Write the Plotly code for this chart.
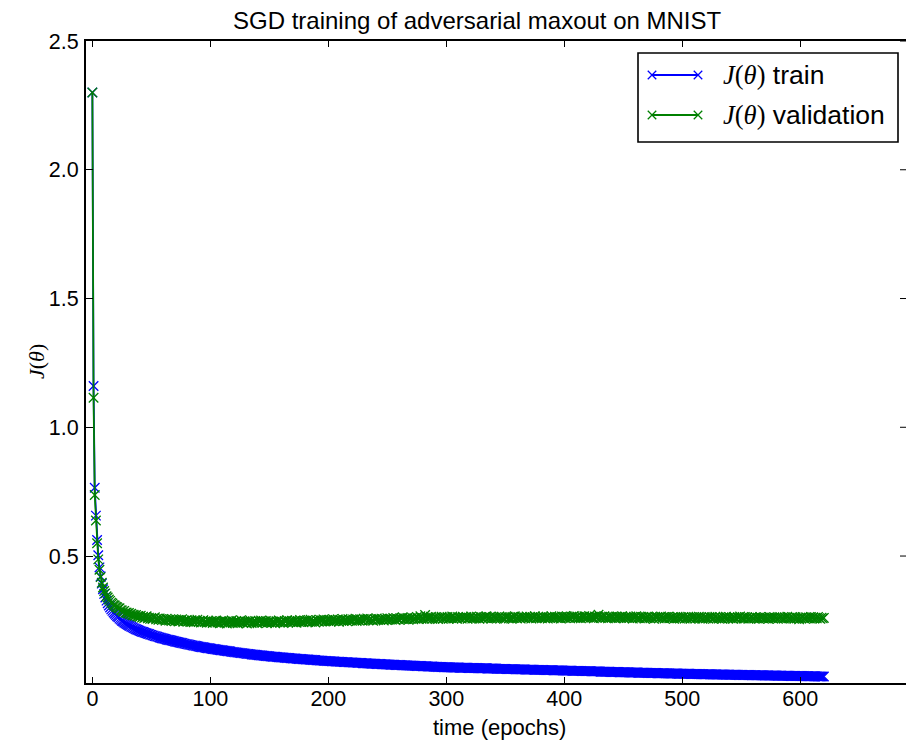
import plotly.graph_objects as go

# ---------------- data ----------------
train_loss = [
    2.300, 1.160, 0.765, 0.657, 0.562, 0.503, 0.456, 0.421, 0.393, 0.371,
    0.353, 0.339, 0.327, 0.317, 0.308, 0.300, 0.293, 0.287, 0.281, 0.276,
    0.271, 0.266, 0.262, 0.257, 0.253, 0.249, 0.246, 0.242, 0.239, 0.236,
    0.233, 0.230, 0.228, 0.225, 0.223, 0.220, 0.218, 0.216, 0.214, 0.212,
    0.210, 0.208, 0.206, 0.205, 0.203, 0.201, 0.200, 0.198, 0.197, 0.195,
    0.194, 0.192, 0.191, 0.189, 0.188, 0.187, 0.185, 0.184, 0.183, 0.181,
    0.180, 0.179, 0.178, 0.176, 0.175, 0.174, 0.173, 0.172, 0.171, 0.170,
    0.168, 0.167, 0.166, 0.165, 0.164, 0.163, 0.162, 0.161, 0.160, 0.159,
    0.158, 0.157, 0.156, 0.155, 0.154, 0.153, 0.152, 0.152, 0.151, 0.150,
    0.149, 0.148, 0.147, 0.146, 0.146, 0.145, 0.144, 0.143, 0.142, 0.142,
    0.141, 0.140, 0.139, 0.139, 0.138, 0.137, 0.136, 0.136, 0.135, 0.134,
    0.134, 0.133, 0.132, 0.132, 0.131, 0.130, 0.130, 0.129, 0.128, 0.128,
    0.127, 0.126, 0.126, 0.125, 0.125, 0.124, 0.123, 0.123, 0.122, 0.122,
    0.121, 0.120, 0.120, 0.119, 0.119, 0.118, 0.118, 0.117, 0.117, 0.116,
    0.116, 0.115, 0.115, 0.114, 0.114, 0.113, 0.113, 0.112, 0.112, 0.111,
    0.111, 0.110, 0.110, 0.109, 0.109, 0.109, 0.108, 0.108, 0.107, 0.107,
    0.106, 0.106, 0.106, 0.105, 0.105, 0.104, 0.104, 0.104, 0.103, 0.103,
    0.102, 0.102, 0.102, 0.101, 0.101, 0.100, 0.100, 0.100, 0.099, 0.099,
    0.099, 0.098, 0.098, 0.098, 0.097, 0.097, 0.097, 0.096, 0.096, 0.096,
    0.095, 0.095, 0.095, 0.094, 0.094, 0.094, 0.093, 0.093, 0.093, 0.092,
    0.092, 0.092, 0.092, 0.091, 0.091, 0.091, 0.090, 0.090, 0.090, 0.090,
    0.089, 0.089, 0.089, 0.088, 0.088, 0.088, 0.088, 0.087, 0.087, 0.087,
    0.087, 0.086, 0.086, 0.086, 0.086, 0.085, 0.085, 0.085, 0.085, 0.084,
    0.084, 0.084, 0.084, 0.083, 0.083, 0.083, 0.083, 0.082, 0.082, 0.082,
    0.082, 0.081, 0.081, 0.081, 0.081, 0.080, 0.080, 0.080, 0.080, 0.079,
    0.079, 0.079, 0.079, 0.078, 0.078, 0.078, 0.078, 0.077, 0.077, 0.077,
    0.077, 0.077, 0.076, 0.076, 0.076, 0.076, 0.075, 0.075, 0.075, 0.075,
    0.075, 0.074, 0.074, 0.074, 0.074, 0.073, 0.073, 0.073, 0.073, 0.073,
    0.072, 0.072, 0.072, 0.072, 0.071, 0.071, 0.071, 0.071, 0.071, 0.070,
    0.070, 0.070, 0.070, 0.069, 0.069, 0.069, 0.069, 0.069, 0.068, 0.068,
    0.068, 0.068, 0.068, 0.068, 0.067, 0.067, 0.067, 0.067, 0.067, 0.067,
    0.067, 0.066, 0.066, 0.066, 0.066, 0.066, 0.066, 0.066, 0.066, 0.065,
    0.065, 0.065, 0.065, 0.065, 0.065, 0.065, 0.065, 0.064, 0.064, 0.064,
    0.064, 0.064, 0.064, 0.064, 0.064, 0.063, 0.063, 0.063, 0.063, 0.063,
    0.063, 0.063, 0.063, 0.062, 0.062, 0.062, 0.062, 0.062, 0.062, 0.062,
    0.062, 0.061, 0.061, 0.061, 0.061, 0.061, 0.061, 0.061, 0.061, 0.060,
    0.060, 0.060, 0.060, 0.060, 0.060, 0.060, 0.060, 0.059, 0.059, 0.059,
    0.059, 0.059, 0.059, 0.059, 0.059, 0.058, 0.058, 0.058, 0.058, 0.058,
    0.058, 0.058, 0.058, 0.057, 0.057, 0.057, 0.057, 0.057, 0.057, 0.057,
    0.057, 0.056, 0.056, 0.056, 0.056, 0.056, 0.056, 0.056, 0.056, 0.055,
    0.055, 0.055, 0.055, 0.055, 0.055, 0.055, 0.055, 0.054, 0.054, 0.054,
    0.054, 0.054, 0.054, 0.054, 0.054, 0.053, 0.053, 0.053, 0.053, 0.053,
    0.053, 0.053, 0.053, 0.052, 0.052, 0.052, 0.052, 0.052, 0.052, 0.052,
    0.052, 0.051, 0.051, 0.051, 0.051, 0.051, 0.051, 0.051, 0.051, 0.050,
    0.050, 0.050, 0.050, 0.050, 0.050, 0.050, 0.050, 0.049, 0.049, 0.049,
    0.049, 0.049, 0.049, 0.049, 0.049, 0.048, 0.048, 0.048, 0.048, 0.048,
    0.048, 0.048, 0.048, 0.047, 0.047, 0.047, 0.047, 0.047, 0.047, 0.047,
    0.047, 0.046, 0.046, 0.046, 0.046, 0.046, 0.046, 0.046, 0.046, 0.045,
    0.045, 0.045, 0.045, 0.045, 0.045, 0.045, 0.045, 0.045, 0.044, 0.044,
    0.044, 0.044, 0.044, 0.044, 0.044, 0.044, 0.044, 0.043, 0.043, 0.043,
    0.043, 0.043, 0.043, 0.043, 0.043, 0.043, 0.043, 0.042, 0.042, 0.042,
    0.042, 0.042, 0.042, 0.042, 0.042, 0.042, 0.041, 0.041, 0.041, 0.041,
    0.041, 0.041, 0.041, 0.041, 0.041, 0.041, 0.040, 0.040, 0.040, 0.040,
    0.040, 0.040, 0.040, 0.040, 0.040, 0.040, 0.040, 0.039, 0.039, 0.039,
    0.039, 0.039, 0.039, 0.039, 0.039, 0.039, 0.039, 0.039, 0.038, 0.038,
    0.038, 0.038, 0.038, 0.038, 0.038, 0.038, 0.038, 0.038, 0.038, 0.037,
    0.037, 0.037, 0.037, 0.037, 0.037, 0.037, 0.037, 0.037, 0.037, 0.037,
    0.036, 0.036, 0.036, 0.036, 0.036, 0.036, 0.036, 0.036, 0.036, 0.036,
    0.036, 0.035, 0.035, 0.035, 0.035, 0.035, 0.035, 0.035, 0.035, 0.035,
    0.035, 0.035, 0.034, 0.034, 0.034, 0.034, 0.034, 0.034, 0.034, 0.034,
    0.034, 0.034, 0.034, 0.034, 0.033, 0.033, 0.033, 0.033, 0.033, 0.033,
    0.033, 0.033, 0.033, 0.033, 0.033, 0.032, 0.032, 0.032, 0.032, 0.032, 0.032,
]

valid_loss = [
    2.300, 1.115, 0.737, 0.638, 0.550, 0.487, 0.447, 0.418, 0.396, 0.378,
    0.364, 0.355, 0.344, 0.339, 0.331, 0.326, 0.319, 0.316, 0.310, 0.308,
    0.303, 0.301, 0.296, 0.297, 0.290, 0.289, 0.284, 0.287, 0.280, 0.281,
    0.277, 0.279, 0.273, 0.276, 0.270, 0.272, 0.268, 0.271, 0.265, 0.267,
    0.263, 0.268, 0.261, 0.264, 0.259, 0.262, 0.266, 0.258, 0.261, 0.256,
    0.260, 0.255, 0.259, 0.262, 0.254, 0.257, 0.252, 0.258, 0.255, 0.251,
    0.256, 0.253, 0.249, 0.257, 0.252, 0.250, 0.255, 0.248, 0.253, 0.251,
    0.247, 0.254, 0.250, 0.246, 0.252, 0.249, 0.255, 0.245, 0.250, 0.248,
    0.252, 0.246, 0.249, 0.244, 0.251, 0.247, 0.243, 0.250, 0.246, 0.253,
    0.245, 0.248, 0.242, 0.247, 0.251, 0.244, 0.246, 0.241, 0.249, 0.245,
    0.243, 0.248, 0.240, 0.246, 0.244, 0.250, 0.242, 0.245, 0.239, 0.247,
    0.243, 0.249, 0.241, 0.246, 0.238, 0.244, 0.247, 0.242, 0.250, 0.240,
    0.245, 0.243, 0.248, 0.239, 0.246, 0.242, 0.251, 0.244, 0.241, 0.247,
    0.243, 0.238, 0.246, 0.244, 0.249, 0.240, 0.245, 0.242, 0.248, 0.243,
    0.239, 0.247, 0.244, 0.250, 0.241, 0.246, 0.243, 0.248, 0.240, 0.245,
    0.243, 0.249, 0.241, 0.246, 0.244, 0.239, 0.247, 0.243, 0.250, 0.242,
    0.246, 0.244, 0.240, 0.248, 0.245, 0.251, 0.242, 0.247, 0.244, 0.249,
    0.243, 0.246, 0.250, 0.241, 0.248, 0.245, 0.252, 0.244, 0.247, 0.243,
    0.249, 0.246, 0.251, 0.244, 0.248, 0.253, 0.245, 0.250, 0.247, 0.242,
    0.251, 0.248, 0.245, 0.252, 0.247, 0.250, 0.254, 0.246, 0.249, 0.252,
    0.248, 0.253, 0.246, 0.250, 0.255, 0.247, 0.251, 0.249, 0.254, 0.245,
    0.252, 0.249, 0.256, 0.248, 0.251, 0.253, 0.247, 0.255, 0.250, 0.252,
    0.249, 0.254, 0.251, 0.257, 0.248, 0.253, 0.250, 0.255, 0.252, 0.249,
    0.256, 0.251, 0.254, 0.258, 0.250, 0.253, 0.256, 0.252, 0.249, 0.255,
    0.253, 0.258, 0.251, 0.255, 0.252, 0.257, 0.254, 0.250, 0.256, 0.253,
    0.259, 0.252, 0.255, 0.257, 0.253, 0.260, 0.254, 0.251, 0.258, 0.255,
    0.253, 0.259, 0.256, 0.262, 0.254, 0.257, 0.255, 0.260, 0.252, 0.258,
    0.256, 0.261, 0.254, 0.259, 0.257, 0.263, 0.255, 0.258, 0.266, 0.256,
    0.260, 0.257, 0.271, 0.259, 0.255, 0.262, 0.258, 0.264, 0.256, 0.261,
    0.257, 0.263, 0.259, 0.255, 0.261, 0.258, 0.264, 0.256, 0.260, 0.262,
    0.258, 0.263, 0.256, 0.261, 0.259, 0.265, 0.257, 0.262, 0.260, 0.256,
    0.263, 0.259, 0.261, 0.257, 0.264, 0.260, 0.258, 0.263, 0.256, 0.261,
    0.259, 0.265, 0.257, 0.262, 0.260, 0.258, 0.264, 0.261, 0.256, 0.263,
    0.260, 0.257, 0.262, 0.259, 0.266, 0.258, 0.261, 0.263, 0.257, 0.260,
    0.264, 0.259, 0.262, 0.257, 0.261, 0.265, 0.258, 0.263, 0.260, 0.256,
    0.262, 0.260, 0.264, 0.258, 0.261, 0.257, 0.263, 0.259, 0.266, 0.260,
    0.258, 0.263, 0.261, 0.257, 0.264, 0.260, 0.262, 0.258, 0.265, 0.261,
    0.259, 0.263, 0.257, 0.262, 0.260, 0.266, 0.258, 0.261, 0.264, 0.259,
    0.262, 0.258, 0.265, 0.261, 0.259, 0.263, 0.257, 0.262, 0.260, 0.266,
    0.261, 0.258, 0.264, 0.260, 0.263, 0.259, 0.262, 0.257, 0.265, 0.261,
    0.263, 0.259, 0.266, 0.260, 0.262, 0.258, 0.264, 0.261, 0.267, 0.259,
    0.262, 0.265, 0.260, 0.263, 0.258, 0.264, 0.261, 0.266, 0.259, 0.263,
    0.261, 0.267, 0.260, 0.264, 0.262, 0.258, 0.265, 0.261, 0.263, 0.272,
    0.262, 0.259, 0.264, 0.261, 0.266, 0.260, 0.263, 0.258, 0.265, 0.262,
    0.260, 0.264, 0.261, 0.258, 0.265, 0.262, 0.259, 0.263, 0.260, 0.266,
    0.261, 0.258, 0.264, 0.260, 0.263, 0.259, 0.265, 0.261, 0.257, 0.263,
    0.260, 0.266, 0.259, 0.262, 0.258, 0.264, 0.261, 0.263, 0.257, 0.262,
    0.259, 0.265, 0.261, 0.258, 0.263, 0.260, 0.256, 0.264, 0.259, 0.262,
    0.258, 0.261, 0.265, 0.259, 0.262, 0.257, 0.263, 0.260, 0.264, 0.258,
    0.261, 0.259, 0.263, 0.256, 0.262, 0.258, 0.264, 0.260, 0.257, 0.262,
    0.259, 0.263, 0.257, 0.261, 0.258, 0.264, 0.260, 0.256, 0.262, 0.259,
    0.263, 0.257, 0.261, 0.259, 0.264, 0.258, 0.262, 0.256, 0.260, 0.263,
    0.258, 0.261, 0.257, 0.263, 0.259, 0.262, 0.256, 0.260, 0.264, 0.258,
    0.261, 0.257, 0.263, 0.259, 0.256, 0.262, 0.258, 0.264, 0.260, 0.257,
    0.262, 0.258, 0.261, 0.256, 0.263, 0.259, 0.257, 0.262, 0.260, 0.265,
    0.258, 0.261, 0.257, 0.263, 0.259, 0.262, 0.256, 0.260, 0.258, 0.263,
    0.259, 0.257, 0.262, 0.258, 0.261, 0.256, 0.263, 0.259, 0.261, 0.257,
    0.262, 0.258, 0.260, 0.256, 0.263, 0.259, 0.261, 0.257, 0.262, 0.258,
    0.261, 0.256, 0.260, 0.263, 0.258, 0.261, 0.257, 0.262, 0.259, 0.264,
    0.258, 0.261, 0.257, 0.263, 0.259, 0.256, 0.262, 0.258, 0.260, 0.254,
    0.261, 0.258, 0.263, 0.259, 0.256, 0.262, 0.258, 0.261, 0.257, 0.263,
    0.259, 0.262, 0.257, 0.261, 0.258, 0.263, 0.259, 0.256, 0.261, 0.258, 0.260,
]

train_epochs = list(range(len(train_loss)))
valid_epochs = list(range(len(valid_loss)))

x_ticks = [0, 100, 200, 300, 400, 500, 600]
y_ticks = [0.5, 1.0, 1.5, 2.0, 2.5]
x_range = [-5.4, 689.6]
y_range = [0.007, 2.5]

title_text = "SGD training of adversarial maxout on MNIST"
x_label = "time (epochs)"
series_names = ["train", "validation"]
series_colors = ["#0000ff", "#008000"]

SANS = "Liberation Sans, Arial, sans-serif"
SERIF = "Liberation Serif, Times New Roman, serif"
MATH = '<span style="font-family:Liberation Serif"><i>J</i>(<i>θ</i>)</span>'

W, H = 906, 740
L, R, T, B = 86, 0, 41, 57
PW, PH = W - L - R, H - T - B

MSIZE = 9.5
MLW = 1.3
LW = 1.8


def px_x(p):
    return (p - L) / PW


def px_y(p):
    return (H - B - p) / PH


fig = go.Figure()

for xs, ys, name, col in [
    (train_epochs, train_loss, series_names[0], series_colors[0]),
    (valid_epochs, valid_loss, series_names[1], series_colors[1]),
]:
    fig.add_trace(go.Scatter(
        x=xs, y=ys, mode="lines+markers", name=name,
        line=dict(color=col, width=LW),
        marker=dict(symbol="x-thin", size=MSIZE, line=dict(color=col, width=MLW), color=col),
        showlegend=False, cliponaxis=True,
    ))

# ---- custom legend (matplotlib style: marker at both ends of sample line) ----
leg_rows = [75, 115]
for row_y, name, col in zip(leg_rows, series_names, series_colors):
    fig.add_trace(go.Scatter(
        x=[652, 698], y=[row_y, row_y], xaxis="x2", yaxis="y2",
        mode="lines+markers", showlegend=False, hoverinfo="skip",
        line=dict(color=col, width=LW),
        marker=dict(symbol="x-thin", size=8.5, line=dict(color=col, width=MLW), color=col),
        cliponaxis=False,
    ))
    fig.add_annotation(
        xref="x2", yref="y2", x=721, y=row_y, xanchor="left", yanchor="middle",
        text=MATH + " " + name, showarrow=False,
        font=dict(family=SANS, size=26.5, color="black"),
    )

fig.add_shape(type="rect", xref="x2", yref="y2", x0=638, x1=898, y0=53, y1=142,
              line=dict(color="black", width=1.6), fillcolor="white", layer="below")

# right-side inward ticks (the right spine itself lies beyond the image)
for yv in y_ticks:
    fig.add_shape(type="line", xref="paper", yref="y", x0=1 - 6 / PW, x1=1, y0=yv, y1=yv,
                  line=dict(color="black", width=1))

# title, axis labels
fig.add_annotation(xref="paper", yref="paper", x=px_x(477), y=px_y(20),
                   text=title_text, showarrow=False, xanchor="center", yanchor="middle",
                   font=dict(family=SANS, size=24, color="black"))
fig.add_annotation(xref="paper", yref="paper", x=px_x(499), y=px_y(727),
                   text=x_label, showarrow=False, xanchor="center", yanchor="middle",
                   font=dict(family=SANS, size=22, color="black"))
fig.add_annotation(xref="paper", yref="paper", x=px_x(36), y=0.5, textangle=-90,
                   text="<i>J</i>(<i>θ</i>)", showarrow=False, xanchor="center", yanchor="middle",
                   font=dict(family=SERIF, size=22, color="black"))

axis_common = dict(showgrid=False, zeroline=False, showline=True, linecolor="black",
                   linewidth=2, ticks="inside", tickcolor="black", tickwidth=1,
                   tickfont=dict(family=SANS, size=21.5, color="black"))

fig.update_layout(
    width=W, height=H,
    margin=dict(l=L, r=R, t=T, b=B, pad=0),
    paper_bgcolor="white", plot_bgcolor="white",
    showlegend=False,
    xaxis=dict(range=x_range, tickvals=x_ticks, ticklen=6, mirror="ticks",
               ticklabelstandoff=-5, **axis_common),
    yaxis=dict(range=y_range, tickvals=y_ticks, tickformat=".1f", ticklen=7,
               ticklabelstandoff=1, **axis_common),
    xaxis2=dict(range=[L, W - R], overlaying="x", visible=False, fixedrange=True),
    yaxis2=dict(range=[H - B, T], overlaying="y", visible=False, fixedrange=True),
)

fig.write_html("out.html")
